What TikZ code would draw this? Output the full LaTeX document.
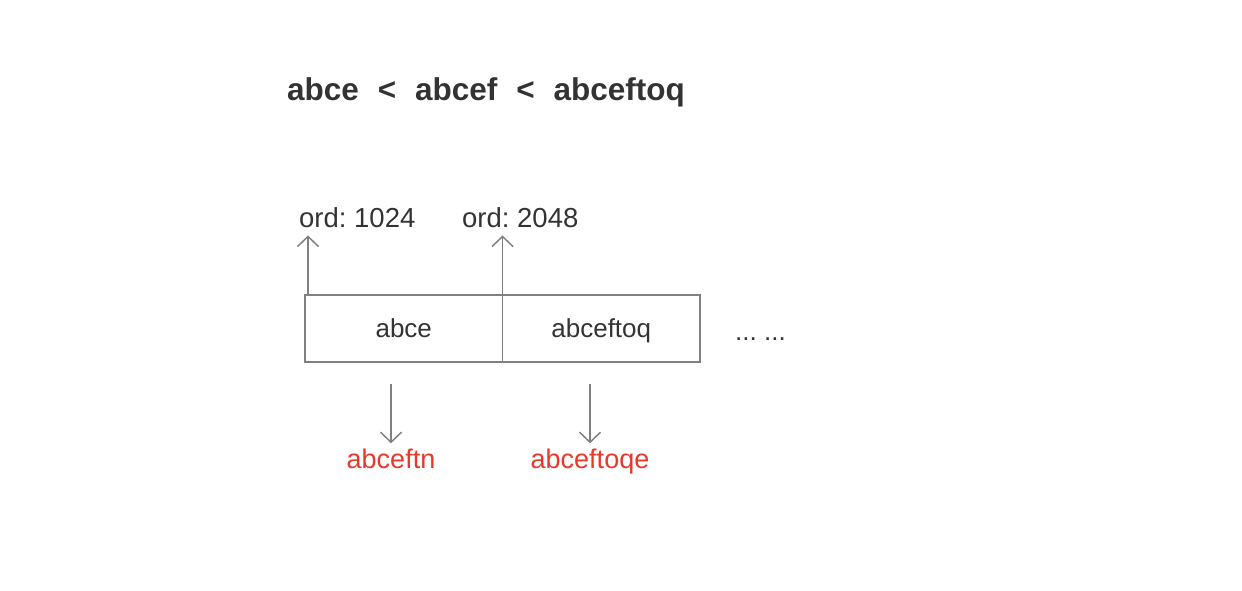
\documentclass[tikz,border=0pt]{standalone}
\usepackage{fontspec}
\setmainfont{Liberation Sans}
\frenchspacing
\usetikzlibrary{arrows.meta}
\definecolor{txtgray}{HTML}{333333}
\definecolor{linegray}{HTML}{808080}
\definecolor{keyred}{HTML}{E8382A}
\begin{document}
\begin{tikzpicture}[x=1pt, y=-1pt,
    cell/.style={draw=linegray, line width=1.5pt, rectangle, outer sep=0pt,
      minimum width=197.5pt, minimum height=67pt, text height=19pt,
      text depth=2pt, text=txtgray, font=\fontsize{26}{30}\selectfont},
    ordlabel/.style={anchor=base west, text=txtgray, inner sep=8pt,
      font=\fontsize{27.5}{32}\selectfont},
    redlabel/.style={anchor=base, text=keyred, inner sep=5pt,
      font=\fontsize{27}{32}\selectfont},
    arr/.style={draw=linegray, line width=1.5pt,
      -{Straight Barb[length=10pt, width=21pt, line width=1.5pt]}}]
    \useasboundingbox (0,0) rectangle (1242,590);

    \node (title) at (287,100) [anchor=base west, inner sep=0pt, text=txtgray,
      font=\fontsize{31.5}{36}\selectfont\bfseries]
      {abce\hspace{0.6em}<\hspace{0.6em}abcef\hspace{0.6em}<\hspace{0.6em}abceftoq};

    \node (c1) at (403.75,328.5) [cell] {abce};
    \node (c2) at (c1.east) [cell, anchor=west] {abceftoq};
    \node (more) at (735,340) [anchor=base west, inner sep=0pt, text=txtgray,
      font=\fontsize{26}{30}\selectfont] {... ...};

    \node (o1) at (291,227) [ordlabel] {ord: 1024};
    \node (o2) at (454,227) [ordlabel] {ord: 2048};

    \node (r1) at (391,468) [redlabel] {abceftn};
    \node (r2) at (590,468) [redlabel] {abceftoqe};

    \draw[arr] ([xshift=3pt]c1.north west) -- ([xshift=3pt]c1.north west |- o1.south);
    \draw[arr] (c2.north west) -- (c2.north west |- o2.south);

    \foreach \cell/\red in {c1/r1,c2/r2} {
      \draw[arr, shorten <=22pt] (\red |- \cell.south) -- (\red.north);
    }
\end{tikzpicture}
\end{document}
